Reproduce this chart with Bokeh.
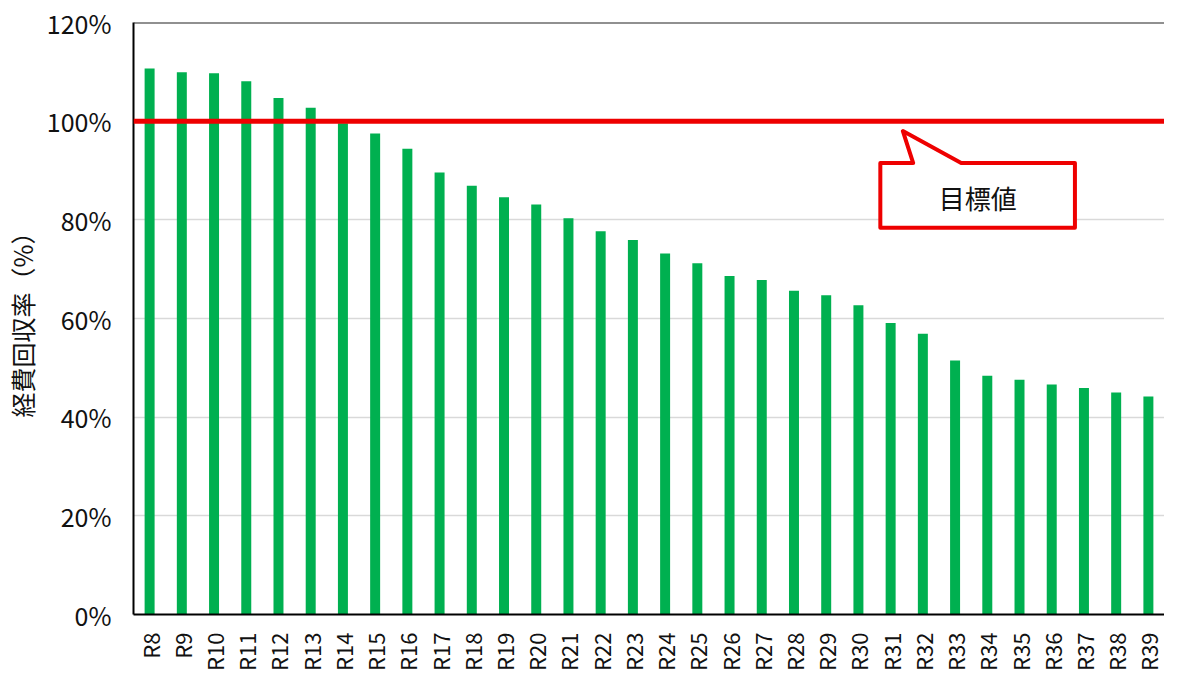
from bokeh.plotting import figure
from bokeh.models import FixedTicker, PrintfTickFormatter, Span, Range1d, Label
from bokeh.embed import file_html
from bokeh.resources import INLINE

categories = ["R8", "R9", "R10", "R11", "R12", "R13", "R14", "R15", "R16", "R17",
              "R18", "R19", "R20", "R21", "R22", "R23", "R24", "R25", "R26", "R27",
              "R28", "R29", "R30", "R31", "R32", "R33", "R34", "R35", "R36", "R37",
              "R38", "R39"]
recovery_rate = [110.7, 109.9, 109.7, 108.1, 104.7, 102.7, 99.6, 97.5, 94.4, 89.6,
                 86.9, 84.6, 83.1, 80.3, 77.7, 75.9, 73.2, 71.2, 68.6, 67.8,
                 65.6, 64.7, 62.7, 59.1, 56.9, 51.5, 48.4, 47.6, 46.6, 45.9,
                 45.0, 44.2]
target_value = 100
y_ticks = [0, 20, 40, 60, 80, 100, 120]
callout_text = "目標値"
y_title = "経費回収率（%）"

FONT = "Noto Sans CJK JP"

xs = [i + 0.5 for i in range(len(categories))]

p = figure(width=1164, height=673, output_backend="svg", toolbar_location=None,
           x_range=Range1d(0, len(categories)), y_range=Range1d(0, 120),
           min_border_left=130, min_border_right=0, min_border_top=22, min_border_bottom=10)
p.outline_line_color = None
p.background_fill_color = "white"
p.border_fill_color = "white"

p.vbar(x=xs, top=recovery_rate, width=0.31, fill_color="#00B050", line_color=None)

# axes
p.yaxis.ticker = FixedTicker(ticks=y_ticks)
p.yaxis.formatter = PrintfTickFormatter(format="%d%%")
p.yaxis.major_tick_line_color = None
p.yaxis.minor_tick_line_color = None
p.yaxis.axis_line_color = "black"
p.yaxis.axis_line_width = 2
p.yaxis.major_label_text_font = FONT
p.yaxis.major_label_text_font_size = "25px"
p.yaxis.major_label_text_color = "#111111"
p.yaxis.major_label_standoff = 16
p.yaxis.axis_label = y_title
p.yaxis.axis_label_text_font = FONT
p.yaxis.axis_label_text_font_size = "25px"
p.yaxis.axis_label_text_font_style = "normal"
p.yaxis.axis_label_text_color = "#111111"
p.yaxis.axis_label_standoff = 4

p.xaxis.ticker = FixedTicker(ticks=xs)
p.xaxis.major_label_overrides = {x: c for x, c in zip(xs, categories)}
p.xaxis.major_tick_line_color = None
p.xaxis.minor_tick_line_color = None
p.xaxis.axis_line_color = "black"
p.xaxis.axis_line_width = 2
p.xaxis.major_label_orientation = 1.5707963267948966
p.xaxis.major_label_text_font = FONT
p.xaxis.major_label_text_font_size = "22px"
p.xaxis.major_label_text_color = "#111111"
p.xaxis.major_label_standoff = 12

p.xgrid.grid_line_color = None
p.ygrid.ticker = FixedTicker(ticks=y_ticks)
p.ygrid.grid_line_color = "#D9D9D9"
p.ygrid.grid_line_width = 1.5

# top border
p.add_layout(Span(location=120, dimension="width", line_color="#222222", line_width=2))

# target line
p.add_layout(Span(location=target_value, dimension="width", line_color="#EE0000", line_width=5))

# callout
bx0, bx1, by0, by1 = 23.18, 29.22, 78.4, 91.5
tip_x, tip_y = 23.88, 98.0
base_l, base_r = 24.20, 25.69
p.patch(x=[bx0, base_l, tip_x, base_r, bx1, bx1, bx0],
        y=[by1, by1, tip_y, by1, by1, by0, by0],
        fill_color="white", line_color="#EE0000", line_width=4, line_join="round")
p.add_layout(Label(x=26.2, y=(by0 + by1) / 2 - 0.5, text=callout_text,
                   text_font=FONT, text_font_size="26px", text_color="#111111",
                   text_align="center", text_baseline="middle"))

open("out.html", "w").write(file_html(p, INLINE))
